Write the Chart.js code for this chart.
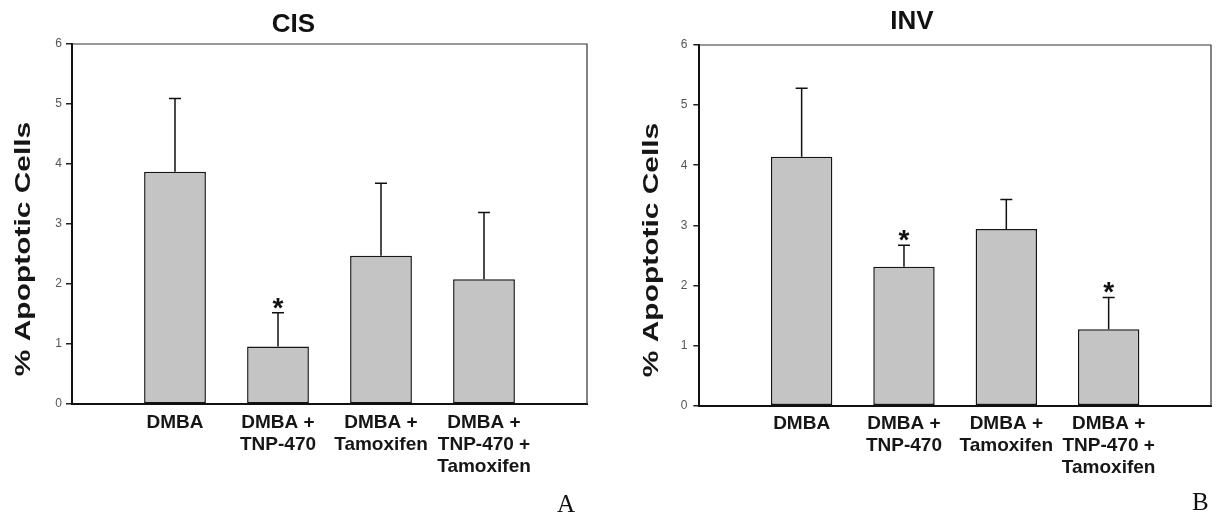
<!DOCTYPE html>
<html><head><meta charset="utf-8">
<script src="https://cdn.jsdelivr.net/npm/chart.js@4.4.1/dist/chart.umd.min.js"></script>
<style>
html,body{margin:0;padding:0;background:#fff;width:1218px;height:516px;overflow:hidden;}
canvas{position:absolute;top:0;}
#cA{left:0} #cB{left:609px}
.panel{position:absolute;font-family:'Liberation Serif','Times New Roman',serif;font-size:25px;line-height:25px;color:#111;}
</style></head><body>
<canvas id="cA" width="609" height="516"></canvas>
<canvas id="cB" width="609" height="516"></canvas>
<div class="panel" style="left:557px;top:491px">A</div>
<div class="panel" style="left:1192px;top:489px">B</div>
<script>
// ---- data ----
const categories = [["DMBA"], ["DMBA +", "TNP-470"], ["DMBA +", "Tamoxifen"], ["DMBA +", "TNP-470 +", "Tamoxifen"]];
const cisMeans = [3.87, 0.96, 2.47, 2.08];
const cisErrors = [1.22, 0.56, 1.21, 1.11];
const cisSignificant = [false, true, false, false];
const invMeans = [4.14, 2.31, 2.94, 1.27];
const invErrors = [1.14, 0.36, 0.49, 0.53];
const invSignificant = [false, true, false, true];
const yTicks = [0, 1, 2, 3, 4, 5, 6];
const panelTitles = ["CIS", "INV"];
const yAxisTitle = "% Apoptotic Cells";

const FONT = "'Liberation Sans', Arial, Helvetica, sans-serif";
Chart.defaults.font.family = FONT;

const errorBarPlugin = {
  id: 'errorBars',
  afterDatasetsDraw(chart, args, opts) {
    const meta = chart.getDatasetMeta(0);
    const ys = chart.scales.y;
    const data = chart.data.datasets[0].data;
    const ctx = chart.ctx;
    ctx.save();
    ctx.strokeStyle = '#111';
    ctx.lineWidth = 1.5;
    meta.data.forEach((bar, i) => {
      const val = data[i], err = opts.errors[i];
      if (val == null || err == null) return;
      const top = ys.getPixelForValue(val + err);
      ctx.beginPath();
      ctx.moveTo(bar.x, bar.y);
      ctx.lineTo(bar.x, top);
      ctx.moveTo(bar.x - 6, top);
      ctx.lineTo(bar.x + 6, top);
      ctx.stroke();
      if (opts.sig[i]) {
        ctx.fillStyle = '#111';
        ctx.font = 'bold 28px ' + FONT;
        ctx.textAlign = 'center';
        ctx.textBaseline = 'alphabetic';
        ctx.fillText('*', bar.x, top + 4);
      }
    });
    ctx.restore();
  }
};

const framePlugin = {
  id: 'frame',
  afterDraw(chart) {
    const {left, right, top, bottom} = chart.chartArea;
    const ctx = chart.ctx;
    ctx.save();
    ctx.strokeStyle = '#333';
    ctx.lineWidth = 1.2;
    ctx.beginPath();
    ctx.moveTo(left, top);
    ctx.lineTo(right, top);
    ctx.lineTo(right, bottom);
    ctx.stroke();
    ctx.restore();
  }
};

const yTitlePlugin = {
  id: 'yTitle',
  afterDraw(chart, args, opts) {
    const ctx = chart.ctx;
    ctx.save();
    ctx.translate(opts.x, opts.y);
    ctx.rotate(-Math.PI / 2);
    ctx.scale(opts.stretch, 1);
    ctx.font = 'bold 22px ' + FONT;
    ctx.fillStyle = '#161616';
    ctx.textAlign = 'center';
    ctx.textBaseline = 'middle';
    ctx.fillText(opts.text, 0, 0);
    ctx.restore();
  }
};

function makeChart(id, title, means, errors, sig, cfg) {
  const labels = [''].concat(categories, ['']);
  const data = [null].concat(means, [null]);
  const errs = [null].concat(errors, [null]);
  const sigs = [false].concat(sig, [false]);
  return new Chart(document.getElementById(id), {
    type: 'bar',
    data: {
      labels: labels,
      datasets: [{
        data: data,
        backgroundColor: '#c4c4c4',
        borderColor: '#151515',
        borderWidth: 1.5,
        borderSkipped: false,
        barPercentage: 0.6,
        categoryPercentage: 1.0
      }]
    },
    options: {
      responsive: false,
      animation: false,
      devicePixelRatio: 1,
      layout: { padding: { left: 0, right: cfg.padRight, top: 0, bottom: 0 } },
      plugins: {
        legend: { display: false },
        tooltip: { enabled: false },
        title: {
          display: true,
          text: title,
          color: '#111',
          font: { size: 26, weight: 'bold', lineHeight: 1.2 },
          padding: { top: cfg.titleTop, bottom: cfg.titleBottom }
        },
        errorBars: { errors: errs, sig: sigs },
        yTitle: { text: yAxisTitle, x: cfg.yTitleX, y: cfg.yTitleY, stretch: 1.36 }
      },
      scales: {
        x: {
          type: 'category',
          offset: false,
          grid: { display: false, drawTicks: false, tickLength: 0 },
          border: { display: true, color: '#111', width: 2 },
          ticks: {
            autoSkip: false, maxRotation: 0, minRotation: 0,
            padding: cfg.xPad,
            color: '#161616',
            font: { size: 19, weight: 'bold', lineHeight: 1.15 }
          },
          afterFit: (s) => { s.height = cfg.xHeight; }
        },
        y: {
          min: 0, max: 6,
          afterBuildTicks: (s) => { s.ticks = yTicks.map(v => ({ value: v })); },
          grid: { drawOnChartArea: false, drawTicks: true, tickLength: 6, color: '#222', lineWidth: 1.5 },
          border: { display: true, color: '#111', width: 2 },
          ticks: { padding: cfg.yPad, color: '#555', font: { size: 12 } },
          afterFit: (s) => { s.width = cfg.yWidth; }
        }
      }
    },
    plugins: [errorBarPlugin, framePlugin, yTitlePlugin]
  });
}

makeChart('cA', panelTitles[0], cisMeans, cisErrors, cisSignificant, {
  padRight: 22, titleTop: 9, titleBottom: 3.8, xPad: 8, xHeight: 112,
  yPad: 4, yWidth: 72, yTitleX: 24, yTitleY: 249
});
makeChart('cB', panelTitles[1], invMeans, invErrors, invSignificant, {
  padRight: 3, titleTop: 6.5, titleBottom: 7.3, xPad: 7, xHeight: 110.3,
  yPad: 6, yWidth: 90.3, yTitleX: 42.7, yTitleY: 250
});
</script>
</body></html>
